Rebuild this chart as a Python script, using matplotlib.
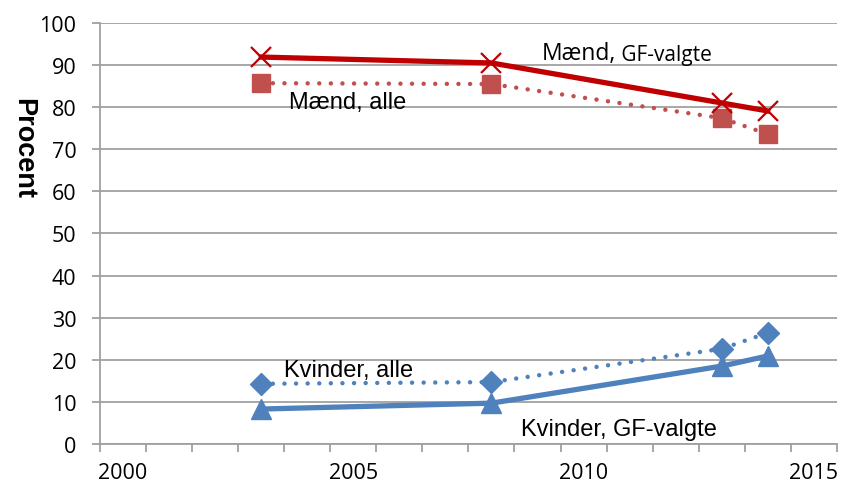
import matplotlib
matplotlib.use('Agg')
import numpy as np
import matplotlib.pyplot as plt

# data
years = [2003, 2008, 2013, 2014]
maend_gf = [91.9, 90.5, 81.0, 79.1]
maend_alle = [85.7, 85.5, 77.4, 73.6]
kvinder_alle = [14.3, 14.7, 22.6, 26.4]
kvinder_gf = [8.3, 9.7, 18.5, 20.9]
year_labels = [2000, 2005, 2010, 2015]

tick_font = ['Open Sans', 'DejaVu Sans']
label_font = ['Liberation Sans', 'DejaVu Sans']

red_dark = '#C00000'
red_light = '#C0504D'
blue = '#4F81BD'
grid_grey = '#A0A0A0'

plt.rcParams['font.family'] = tick_font

fig = plt.figure(figsize=(8.41, 4.89), dpi=100)
ax = fig.add_axes([0.119, 0.09, 0.876, 0.861])

dotted = (0, (0.01, 2.6))

ax.plot(years, maend_alle, color=red_light, lw=3.2, linestyle=dotted,
        dash_capstyle='round', marker='s', ms=13, mec=red_light, mfc=red_light, zorder=3)
ax.plot(years, maend_gf, color=red_dark, lw=3.8, marker='x', ms=14,
        mew=1.6, mec=red_dark, zorder=4)
ax.plot(years, kvinder_alle, color=blue, lw=3.2, linestyle=dotted,
        dash_capstyle='round', marker='D', ms=11, mec=blue, mfc=blue, zorder=3)
ax.plot(years, kvinder_gf, color=blue, lw=3.8, marker='^', ms=14,
        mec=blue, mfc=blue, zorder=4)

# labels sit between the tick marks, like the Excel original
ax.set_xlim(year_labels[0] - 0.5, year_labels[-1] + 0.5)
ax.set_ylim(0, 100)
ax.set_yticks(np.arange(0, 101, 10))
ax.set_xticks(year_labels)
ax.set_xticks(np.arange(year_labels[0] - 0.5, year_labels[-1] + 1, 1), minor=True)
ax.grid(axis='y', color=grid_grey, lw=1.3, zorder=0)
ax.set_axisbelow(True)

for s in ['top', 'right']:
    ax.spines[s].set_visible(False)
for s in ['left', 'bottom']:
    ax.spines[s].set_color(grid_grey)
    ax.spines[s].set_linewidth(1.3)

ax.tick_params(axis='y', which='major', length=6, width=1.3, color=grid_grey,
               pad=11, labelsize=15.5)
ax.tick_params(axis='x', which='major', length=0, pad=13, labelsize=15.5)
ax.tick_params(axis='x', which='minor', length=6, width=1.3, color=grid_grey)

fig.text(0.027, 0.696, 'Procent', rotation=270, ha='center', va='center',
         fontsize=19.5, fontweight='bold', family=label_font)

t = ax.text(2009.1, 91.4, 'Mænd,', fontsize=16.5, family=tick_font,
            va='baseline', ha='left', zorder=5)
ax.annotate(' GF-valgte', xy=(1, 0), xycoords=t, va='bottom', ha='left',
            fontsize=15, family=tick_font, zorder=5)

ax.text(2003.6, 79.9, 'Mænd, alle', fontsize=17, family=label_font, zorder=5)
ax.text(2003.5, 16.2, 'Kvinder, alle', fontsize=17, family=label_font, zorder=5)
ax.text(2008.65, 2.1, 'Kvinder, GF-valgte', fontsize=17, family=label_font, zorder=5)

fig.savefig('out.png', dpi=100)
